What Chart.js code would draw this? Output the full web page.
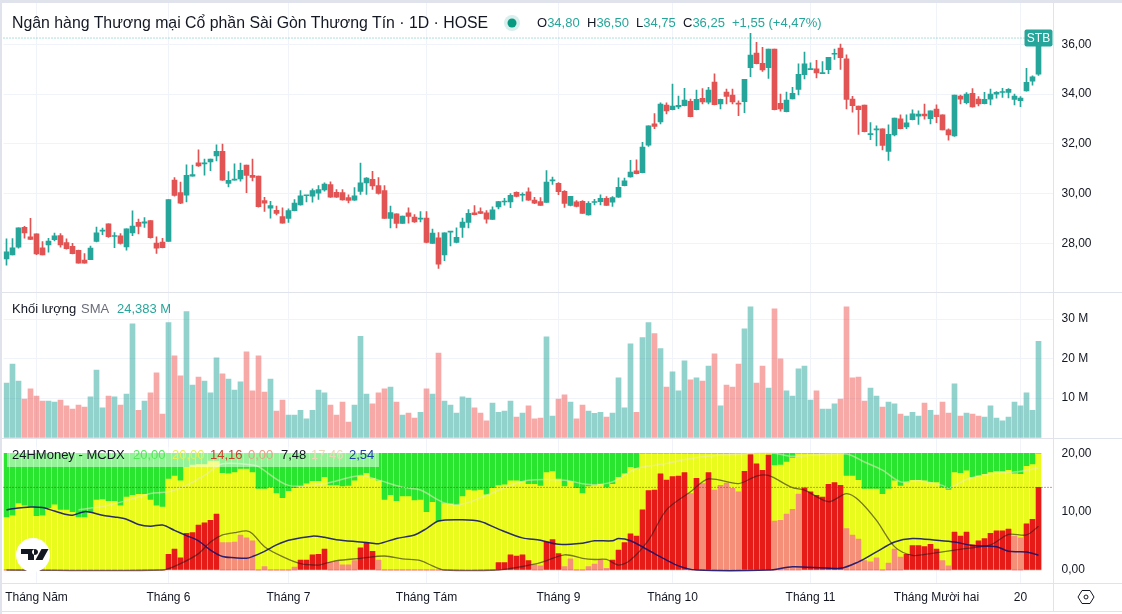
<!DOCTYPE html>
<html lang="vi">
<head>
<meta charset="utf-8">
<title>STB</title>
<script src="https://cdn.jsdelivr.net/npm/chart.js@4/dist/chart.umd.min.js"></script>
<style>
  html, body { margin: 0; padding: 0; background: #fff; overflow: hidden; }
  body { width: 1122px; height: 614px; position: relative; font-family: "Liberation Sans", Arial, sans-serif; color: #131722; }
  canvas { position: absolute; left: 0; }
  .frame { position: absolute; background: #e0e3eb; }
  .txt { position: absolute; white-space: nowrap; line-height: 18px; font-size: 13px; }
  .up { color: #26a69a; }
  .legend-bg { position: absolute; left: 7px; top: 447px; width: 372px; height: 20px; background: rgba(255,255,255,.5); }
</style>
</head>
<body>
<canvas id="price-chart" width="1122" height="292" style="top:0"></canvas>
<canvas id="volume-chart" width="1122" height="145" style="top:293px"></canvas>
<canvas id="mcdx-chart" width="1122" height="173" style="top:439px"></canvas>

<div class="frame" style="left:0;top:0;width:1122px;height:3px"></div>
<div class="frame" style="left:0;top:0;width:2px;height:614px"></div>
<div class="frame" style="left:2px;top:292px;width:1120px;height:1px"></div>
<div class="frame" style="left:2px;top:438px;width:1120px;height:1px"></div>
<div class="frame" style="left:2px;top:583px;width:1120px;height:1px"></div>
<div class="frame" style="left:2px;top:611px;width:1120px;height:1px"></div>
<div class="frame" style="left:1053px;top:3px;width:1px;height:608px"></div>

<div class="txt" style="left:12px;top:14px;font-size:15.85px">Ngân hàng Thương mại Cổ phần Sài Gòn Thương Tín · 1D · HOSE</div>
<svg style="position:absolute;left:503px;top:14px" width="18" height="18"><circle cx="9" cy="9" r="8" fill="#26a69a" opacity=".18"/><circle cx="9" cy="9" r="4.5" fill="#089981"/></svg>
<div class="txt" style="left:537px;top:14px">O<span class="up">34,80</span></div>
<div class="txt" style="left:587px;top:14px">H<span class="up">36,50</span></div>
<div class="txt" style="left:636px;top:14px">L<span class="up">34,75</span></div>
<div class="txt" style="left:683px;top:14px">C<span class="up">36,25</span></div>
<div class="txt up" style="left:732px;top:14px">+1,55 (+4,47%)</div>

<div class="txt" style="left:12px;top:300px">Khối lượng</div>
<div class="txt" style="left:81px;top:300px;color:#6a6d78">SMA</div>
<div class="txt up" style="left:117px;top:300px">24,383 M</div>

<div class="legend-bg"></div>
<div class="txt" style="left:12px;top:446px">24HMoney - MCDX</div>
<div class="txt" style="left:133px;top:446px;color:#52e85a">20,00</div>
<div class="txt" style="left:172px;top:446px;color:#e4ef5a">20,00</div>
<div class="txt" style="left:210px;top:446px;color:#c8402a">14,16</div>
<div class="txt" style="left:248px;top:446px;color:#e8a088">0,00</div>
<div class="txt" style="left:281px;top:446px">7,48</div>
<div class="txt" style="left:311px;top:446px;color:#ecd8b8">17,46</div>
<div class="txt" style="left:349px;top:446px;color:#1c3fa8">2,54</div>

<svg style="position:absolute;left:15px;top:537px" width="36" height="36" viewBox="0 0 36 36"><circle cx="18" cy="18" r="17" fill="#fff"/><path d="M6 12h13v11h-6v-6H6zM26.5 12h7l-6 11h-7z M20 12a3 3 0 1 0 .01 0z" fill="#131722"/></svg>
<svg style="position:absolute;left:1077px;top:588px" width="18" height="18" viewBox="0 0 18 18"><path d="M5 2.5h8L17 9l-4 6.5H5L1 9z" fill="none" stroke="#131722"/><circle cx="9" cy="9" r="2" fill="none" stroke="#131722"/></svg>

<script>
// daily OHLC, 173 sessions
const opens = [
  27.37,27.53,27.84,28.64,28.26,28.38,27.82,27.93,28.14,28.31,28.03,27.88,27.72,27.32,27.34,28.07,28.49,28.78,28.27,28.30,
  27.85,28.42,28.84,28.81,28.91,28.01,28.05,28.07,30.54,30.04,29.93,30.70,31.23,31.19,31.27,31.51,31.70,30.41,30.54,30.59,
  31.14,30.73,30.70,29.72,29.41,29.32,29.07,29.00,29.31,29.54,29.91,29.89,30.01,30.14,30.36,30.05,30.04,29.84,29.73,30.08,
  30.43,30.57,30.32,30.12,29.00,29.18,28.80,29.22,29.05,28.97,29.01,27.99,28.22,27.53,28.45,28.03,28.64,28.84,29.22,29.27,
  29.22,28.96,29.46,29.66,29.66,30.05,29.93,30.07,29.74,29.68,29.64,30.51,30.41,30.09,29.52,29.67,29.69,29.14,29.64,29.67,
  29.81,29.65,29.85,30.32,30.67,30.91,30.84,31.94,32.80,32.88,33.56,33.37,33.48,33.53,33.71,33.37,33.83,33.67,34.48,33.60,
  34.08,33.96,33.64,33.69,35.06,35.65,35.23,35.06,35.81,33.63,33.29,33.80,34.18,34.78,34.98,35.01,34.82,34.98,35.60,35.85,
  35.41,33.80,33.51,33.56,32.37,32.56,32.60,31.69,32.36,33.00,32.68,32.97,33.11,33.19,33.01,33.39,33.16,32.56,32.32,33.92,
  33.65,34.03,33.80,33.61,33.79,33.99,34.06,34.06,33.78,33.73,34.12,34.52,34.80
];
const highs = [
  28.18,28.19,28.62,28.68,29.00,28.38,28.07,28.20,28.41,28.39,28.18,28.00,27.73,27.58,27.89,28.65,28.61,28.78,28.43,28.39,
  28.58,29.30,28.97,29.03,28.91,28.26,28.20,29.76,30.64,30.46,31.15,31.14,31.76,31.38,31.38,31.96,31.99,30.88,31.19,31.22,
  31.14,31.38,30.70,29.85,29.69,29.49,29.42,29.38,29.76,30.12,29.93,30.19,30.32,30.43,30.47,30.16,30.16,29.95,30.24,31.22,
  30.64,30.89,30.64,30.32,29.49,29.18,29.09,29.42,29.15,29.27,29.27,28.57,28.43,28.42,28.47,28.62,29.01,29.35,29.51,29.42,
  29.31,29.46,29.69,29.81,30.00,30.07,30.03,30.23,29.85,29.84,30.92,30.66,30.44,30.12,29.89,29.72,29.72,29.68,29.77,29.95,
  29.88,29.88,30.63,30.62,31.33,31.35,32.06,32.72,33.21,33.65,33.65,34.40,33.92,34.23,33.80,34.16,34.22,34.27,34.81,33.80,
  34.20,34.20,33.73,34.59,36.44,36.08,35.88,35.81,35.81,34.00,34.08,34.27,35.21,35.69,35.25,35.35,35.30,35.48,35.81,36.01,
  35.58,33.91,33.51,33.56,32.85,32.72,32.60,32.76,33.03,33.16,33.16,33.36,33.32,33.60,33.32,33.57,33.16,32.60,33.96,33.96,
  34.06,34.22,33.90,34.07,34.20,34.10,34.23,34.22,34.00,33.90,35.03,34.73,36.50
];
const lows = [
  27.12,27.53,27.80,28.20,28.14,27.54,27.53,27.64,28.09,27.84,27.76,27.57,27.20,27.20,27.34,28.05,28.34,28.23,27.82,27.96,
  27.72,28.30,28.38,28.64,28.20,27.59,27.81,28.07,29.89,29.59,29.66,30.70,31.09,30.74,30.92,31.31,30.53,30.26,30.54,30.50,
  30.03,30.51,29.45,29.28,29.01,29.14,28.81,28.84,29.30,29.53,29.66,29.65,29.76,30.09,29.84,29.84,29.73,29.62,29.72,29.96,
  29.96,30.16,29.97,29.00,28.62,28.62,28.80,28.81,28.84,28.86,28.01,27.99,26.99,27.30,27.89,28.01,28.23,28.62,29.14,29.19,
  28.81,28.96,29.38,29.53,29.43,29.86,29.69,29.72,29.59,29.52,29.64,30.37,29.95,29.44,29.50,29.46,29.20,29.13,29.54,29.54,
  29.52,29.48,29.84,30.31,30.66,30.79,30.83,31.89,32.61,32.80,33.20,33.36,33.41,33.52,33.08,33.36,33.60,33.60,33.56,33.40,
  33.60,33.60,33.13,33.25,34.70,35.21,34.91,34.63,33.36,33.31,33.28,33.80,33.96,34.61,34.98,34.65,34.82,34.82,35.39,34.99,
  33.40,33.27,32.38,32.48,32.16,31.91,31.75,31.33,32.32,32.60,32.61,32.96,32.78,32.99,32.80,32.85,32.56,32.14,32.30,33.60,
  33.60,33.47,33.52,33.60,33.56,33.83,33.86,33.84,33.56,33.49,34.11,34.36,34.75
];
const closes = [
  27.66,27.82,28.62,28.42,28.15,27.57,27.53,28.09,28.30,27.93,27.78,27.58,27.20,27.20,27.81,28.42,28.51,28.26,28.30,27.99,
  28.58,28.69,28.68,28.86,28.22,27.80,27.82,29.76,29.92,29.61,30.73,30.76,31.11,31.22,31.38,31.70,30.54,30.53,30.57,30.93,
  30.73,30.65,29.47,29.61,29.51,29.20,28.81,29.31,29.62,29.91,29.93,30.12,30.16,30.38,29.85,29.85,29.74,29.72,29.91,30.43,
  30.62,30.31,30.00,29.00,29.23,28.80,29.09,29.08,28.86,29.00,28.03,28.41,27.16,28.42,28.47,28.24,28.85,29.20,29.15,29.20,
  28.97,29.34,29.68,29.69,29.93,29.88,29.96,29.73,29.61,29.52,30.46,30.54,30.07,29.60,29.89,29.48,29.20,29.61,29.68,29.81,
  29.52,29.84,30.25,30.51,30.86,30.80,31.87,32.72,32.70,33.60,33.32,33.52,33.55,33.76,33.09,33.79,33.68,34.16,33.57,33.79,
  33.90,33.68,33.59,34.59,35.57,35.22,34.97,35.81,33.37,33.40,33.76,34.03,34.79,35.21,35.01,34.85,34.85,35.48,35.62,35.46,
  33.78,33.53,33.37,32.49,32.40,32.58,31.93,32.38,33.03,32.61,32.84,33.20,33.19,33.12,33.32,33.09,32.56,32.36,33.96,33.79,
  34.00,33.48,33.60,33.79,34.00,34.07,34.08,34.19,33.92,33.84,34.47,34.69,36.25
];

// volume in millions
const volumes = [
  13.8,18.6,14.3,9.7,12.3,10.5,9.2,9.2,9.0,9.5,8.0,7.2,8.2,7.7,10.3,17.1,7.5,10.5,10.3,8.2,
  11.0,28.8,6.9,9.2,11.3,16.4,5.9,29.1,20.7,15.6,31.9,13.3,15.3,14.3,11.3,20.2,16.1,14.8,12.0,14.1,
  21.7,11.8,20.7,11.5,14.8,6.7,9.5,5.7,5.7,6.9,4.7,6.9,12.0,11.3,8.2,5.7,9.0,3.9,8.2,25.6,
  11.0,8.5,11.3,12.3,12.8,9.0,5.7,6.2,4.9,6.4,12.3,11.0,21.4,9.2,8.2,6.2,10.3,10.0,7.5,6.2,
  4.2,8.7,6.4,6.7,9.2,5.2,6.2,8.0,4.7,4.9,25.5,5.4,9.7,10.8,9.0,4.7,8.2,6.7,6.1,6.4,
  5.2,6.2,15.1,7.5,23.7,6.4,25.3,29.1,26.3,22.5,12.8,16.6,11.8,19.4,14.6,15.1,14.3,18.1,21.2,8.0,
  13.3,12.8,18.6,27.5,33.1,13.8,18.1,12.5,32.6,19.9,11.8,10.5,17.4,18.1,9.5,11.8,7.2,7.2,8.5,9.7,
  33.1,15.1,15.3,9.2,12.5,10.5,7.7,9.0,8.5,5.9,5.4,6.4,5.4,8.7,6.9,5.7,9.0,6.2,13.6,5.4,
  6.2,5.9,5.4,5.2,8.0,4.9,4.2,5.2,9.0,8.0,11.3,6.9,24.383
];

// MCDX: lower edge of the green band (hangs from 20), red and salmon columns
const mcdxGreen = [
  9.1,9.4,11.5,11.1,10.9,9.3,9.4,10.7,11.3,10.4,10.4,10.0,9.1,9.1,10.0,12.1,12.2,11.9,11.9,11.1,
  12.6,12.9,13.1,13.1,12.1,11.1,10.9,15.7,16.2,15.4,17.7,18.1,18.2,18.2,18.8,18.8,16.7,16.6,16.8,17.4,
  17.4,16.8,14.0,14.0,14.2,13.2,12.4,13.6,14.1,14.4,14.9,15.3,15.3,16.0,14.6,14.6,14.4,14.5,15.4,16.2,
  16.7,15.8,15.4,12.1,12.9,11.9,12.7,12.7,12.0,12.1,10.0,11.7,8.4,11.5,11.4,11.2,12.7,13.8,13.7,13.8,
  13.0,14.1,14.6,14.7,15.4,15.4,15.3,14.8,14.8,14.5,16.8,17.0,15.7,14.4,15.3,14.1,13.2,14.4,14.6,14.8,
  14.2,14.8,16.0,16.6,17.7,17.5,20,20,20,20,20,20,20,20,20,20,20,20,20,20,
  20,20,20,20,20,20,20,20,18.0,18.1,18.6,19.3,20,20,20,20,20,20,20,20,
  16.2,16.2,15.5,14.0,14.0,14.0,13.1,14.0,15.4,14.5,15.1,15.5,15.5,15.4,15.1,15.1,14.2,13.8,16.8,16.7,
  17.1,16.0,16.2,16.5,16.8,17.0,17.0,17.2,16.6,16.5,17.9,18.2,20
];
const mcdxRed = [
  0,0,0,0,0,0,0,0,0,0,0,0,0,0,0,0,0,0,0,0,
  0,0,0,0,0,0,0,2.7,3.6,2.1,6.3,6.4,7.7,8.1,8.5,9.6,0,0,0,0,
  0,0,0,0,0,0,0,0,0,1.7,1.7,2.6,2.7,3.6,0,0,0,0,0,3.8,
  4.6,3.2,0,0,0,0,0,0,0,0,0,0,0,0,0,0,0,0,0,0,
  0,0,1.25,1.25,2.6,2.4,2.6,1.6,0,0,4.8,5.2,2.8,0,0,0,0,0,0,0,
  0,1.7,3.4,4.7,6.2,5.8,10.3,13.6,13.7,16.5,15.4,16.0,16.1,16.7,0,15.7,0,16.7,0,0,
  0,0,0,16.9,19.8,18.2,17.1,19.7,0,0,0,0,0,14.1,13.4,12.8,12.5,14.7,15.0,14.5,
  0,0,0,0,0,0,0,0,0,0,2.7,4.2,4.2,4.0,4.4,3.6,0,0,6.5,5.8,
  6.5,4.3,5.0,5.4,6.3,6.7,6.7,7.0,0,0,7.9,8.7,14.16
];
const mcdxSalmon = [
  0,0,0,0,0,0,0,0,0,0,0,0,0,0,0,0,0,0,0,0,
  0,0,0,0,0,0,0,0,0,0,0,0,0,0,0,0,4.7,4.7,4.8,6.0,
  5.5,5.0,0,0.6,0,0,0,0,0.5,0,0,0,0,0,1.3,1.5,0.9,0.9,1.6,0,
  0,0,1.7,0,0,0,0,0,0,0,0,0,0,0,0,0,0,0,0,0,
  0,0,0,0,0,0,0,0,0.9,0.7,0,0,0,0.6,1.9,0,0,0.6,1.0,1.7,
  0.3,0,0,0,0,0,0,0,0,0,0,0,0,0,13.1,0,14.8,0,13.7,14.5,
  14.9,14.0,13.4,0,0,0,0,0,8.4,8.5,9.6,10.4,13.0,0,0,0,0,0,0,0,
  7.1,6.0,5.3,1.6,1.4,2.1,0,1.2,3.6,2.2,0,0,0,0,0,0,1.6,0.7,0,0,
  0,0,0,0,0,0,0,0,5.8,5.5,0,0,0
];

// moving lines on the MCDX pane, read at selected sessions
const blueIdx = [0,1,4,6,8,10,11,13,14,16,18,20,22,24,26,28,30,32,34,36,38,40,41,43,45,47,51,53,55,59,61,62,65,68,70,72,76,79,82,86,89,92,96,98,101,102,104,108,112,115,127,131,139,142,145,148,151,155,158,161,165,167,170,172];
const blueVals = [10.3,10.5,10.8,10.7,10.1,9.5,9.4,10.0,9.9,9.4,9.1,8.7,7.8,7.5,7.7,6.8,5.9,5.0,3.4,2.3,2.1,2.0,2.3,3.2,4.3,5.1,5.8,5.6,5.2,4.8,4.6,4.5,5.4,6.0,7.1,8.4,8.6,8.3,7.0,5.5,5.1,4.4,4.6,5.0,5.0,5.4,5.0,2.8,0.7,0,0,0.55,0.3,1.4,3.1,4.8,5.4,5.1,4.8,4.2,4.0,3.2,3.1,2.54];

const oliveIdx = [0,26,29,32,34,36,38,40,41,43,46,49,52,53,55,59,63,66,69,71,73,82,86,89,93,96,98,100,102,104,107,110,114,117,122,125,127,131,133,137,140,142,145,148,151,154,156,160,164,167,170,172];
const oliveVals = [0,0,1.1,2.8,4.8,6.0,6.4,6.7,6.2,4.0,2.3,1.1,0.85,1.1,1.6,2.0,2.4,1.9,1.6,0.7,0,0,0.6,1.25,2.6,2.0,1.8,1.8,0.85,1.7,5.1,10.3,13.4,15.6,14.8,16.1,16.2,14.1,13.7,11.7,13.1,12.0,8.5,4.0,2.5,2.8,3.1,3.7,4.3,6.1,6.0,7.48];

const paleIdx = [12,17,22,24,27,30,33,36,41,42,47,53,59,62,66,69,73,76,80,84,87,93,96,98,101,105,109,116,125,128,131,140,143,146,149,152,156,157,160,164,168,172];
const paleVals = [10.3,11.1,12.5,13.1,13.4,14.5,16.2,18.2,18.0,17.7,14.5,14.8,16.2,15.4,14.2,13.7,11.5,11.3,12.8,14.5,15.4,15.4,14.8,14.6,15.1,17.4,18.1,19.4,20,20,19.5,19.9,18.5,17.1,15.1,15.3,14.5,14.0,15.5,16.5,16.8,17.46];

// axis ticks
const priceTicks = [28, 30, 32, 34, 36];
const volumeTicks = [10, 20, 30];
const mcdxTicks = [0, 10, 20];
const monthIdx = [5, 27, 47, 70, 92, 111, 134, 155, 169];
const monthLabels = ['Tháng Năm', 'Tháng 6', 'Tháng 7', 'Tháng Tám', 'Tháng 9', 'Tháng 10', 'Tháng 11', 'Tháng Mười hai', '20'];

const lastClose = 36.25;
const mcdxDotted = 14.16;

const UP = '#26a69a', DOWN = '#e25453';
const SLOTS = 175;
const labels = new Array(SLOTS).fill('');
monthIdx.forEach((idx, n) => { labels[idx] = monthLabels[n]; });

const isUp = closes.map((c, i) => c >= opens[i]);
const sparseLine = (idx, vals) => {
  const out = new Array(SLOTS).fill(null);
  idx.forEach((at, n) => { out[at] = vals[n]; });
  return out;
};
const comma = v => v.toFixed(2).replace('.', ',');

// x.stacked lets the bar datasets of a pane share one slot
const xAxis = (height, showLabels) => ({
  type: 'category',
  offset: true,
  stacked: true,
  grid: { color: '#f0f3fa', drawTicks: false, offset: false },
  border: { display: false },
  afterBuildTicks: s => { s.ticks = monthIdx.map(v => ({ value: v })); },
  afterFit: s => { s.height = height; s.paddingLeft = 0; s.paddingRight = 0; },
  ticks: {
    display: showLabels, autoSkip: false, maxRotation: 0, padding: 7,
    color: '#131722', font: { family: 'Liberation Sans', size: 12 }
  }
});
// plot width comes to 6px per session so bars land on whole pixels
const yAxis = (min, max, ticks, fmt, showGrid) => ({
  position: 'right',
  min: min,
  max: max,
  grid: { color: showGrid ? '#f0f3fa' : 'transparent', drawTicks: false },
  border: { display: false },
  afterBuildTicks: s => { s.ticks = ticks.map(v => ({ value: v })); },
  afterFit: s => { s.width = 68.5; s.paddingTop = 0; s.paddingBottom = 0; },
  ticks: { padding: 8, callback: fmt, color: '#131722', font: { family: 'Liberation Sans', size: 12 } }
});
const baseOptions = {
  responsive: false,
  animation: false,
  layout: { padding: { left: 3.5, right: 0, top: 0, bottom: 0 } },
  plugins: { legend: { display: false }, tooltip: { enabled: false } }
};

// last price dotted line and symbol tag
const priceMarker = {
  id: 'priceMarker',
  afterDatasetsDraw(chart) {
    const { ctx, chartArea, scales } = chart;
    const y = scales.y.getPixelForValue(lastClose);
    const x = scales.x.getPixelForValue(closes.length - 1);
    ctx.save();
    ctx.strokeStyle = 'rgba(38,166,154,.75)';
    ctx.setLineDash([1, 2]);
    ctx.beginPath();
    ctx.moveTo(chartArea.left, y);
    ctx.lineTo(x - 14, y);
    ctx.stroke();
    ctx.setLineDash([]);
    ctx.fillStyle = UP;
    ctx.beginPath();
    ctx.roundRect(x - 14, y - 8.5, 28, 17, 2);
    ctx.fill();
    ctx.fillStyle = '#fff';
    ctx.font = '12px "Liberation Sans Narrow", "Liberation Sans"';
    ctx.textAlign = 'center';
    ctx.textBaseline = 'middle';
    ctx.fillText('STB', x, y + 0.5);
    ctx.restore();
  }
};

new Chart(document.getElementById('price-chart'), {
  type: 'bar',
  data: {
    labels: labels,
    datasets: [
      { data: lows.map((l, i) => [l, highs[i]]), backgroundColor: isUp.map(u => u ? UP : DOWN), barThickness: 1, order: 2 },
      { data: opens.map((o, i) => [o, closes[i]]), backgroundColor: isUp.map(u => u ? UP : DOWN), barThickness: 5, minBarLength: 1, order: 1 }
    ]
  },
  options: {
    ...baseOptions,
    scales: {
      x: xAxis(0, false),
      y: yAxis(26.04, 37.78, priceTicks, comma, true)
    }
  },
  plugins: [priceMarker]
});

new Chart(document.getElementById('volume-chart'), {
  type: 'bar',
  data: {
    labels: labels,
    datasets: [{
      data: volumes,
      backgroundColor: isUp.map(u => u ? 'rgba(38,166,154,.5)' : 'rgba(239,83,80,.5)'),
      barThickness: 5
    }]
  },
  options: {
    ...baseOptions,
    scales: {
      x: xAxis(0, false),
      y: yAxis(-0.13, 36.6, volumeTicks, v => v + ' M', true)
    }
  }
});

// dotted levels on the MCDX pane
const mcdxLevels = {
  id: 'mcdxLevels',
  afterDatasetsDraw(chart) {
    const { ctx, chartArea, scales } = chart;
    ctx.save();
    ctx.setLineDash([1, 2]);
    ctx.strokeStyle = '#8a3a1a';
    const y = scales.y.getPixelForValue(mcdxDotted);
    ctx.beginPath();
    ctx.moveTo(chartArea.left, y);
    ctx.lineTo(chartArea.right, y);
    ctx.stroke();
    ctx.restore();
  }
};

new Chart(document.getElementById('mcdx-chart'), {
  type: 'bar',
  data: {
    labels: labels,
    datasets: [
      { data: mcdxGreen.map(() => [0, 20]), backgroundColor: '#e8fb1c', barThickness: 5, order: 6 },
      { data: mcdxGreen.map(v => [v, 20]), backgroundColor: '#2ae530', barThickness: 5, order: 5 },
      { data: mcdxSalmon, backgroundColor: '#f58f78', barThickness: 5, order: 4 },
      { data: mcdxRed, backgroundColor: '#e61a17', barThickness: 5, order: 3 },
      { type: 'line', data: sparseLine(paleIdx, paleVals), borderColor: 'rgba(240,230,200,.55)', borderWidth: 1.5, pointRadius: 0, spanGaps: true, tension: 0.3, order: 2 },
      { type: 'line', data: sparseLine(oliveIdx, oliveVals), borderColor: 'rgba(40,30,30,.6)', borderWidth: 1.3, pointRadius: 0, spanGaps: true, tension: 0.3, order: 1 },
      { type: 'line', data: sparseLine(blueIdx, blueVals), borderColor: 'rgba(20,20,110,.9)', borderWidth: 1.5, pointRadius: 0, spanGaps: true, tension: 0.3, order: 0 }
    ]
  },
  options: {
    ...baseOptions,
    scales: {
      x: xAxis(29, true),
      y: yAxis(-2.23, 22.45, mcdxTicks, comma, false)
    }
  },
  plugins: [mcdxLevels]
});
</script>
</body>
</html>
